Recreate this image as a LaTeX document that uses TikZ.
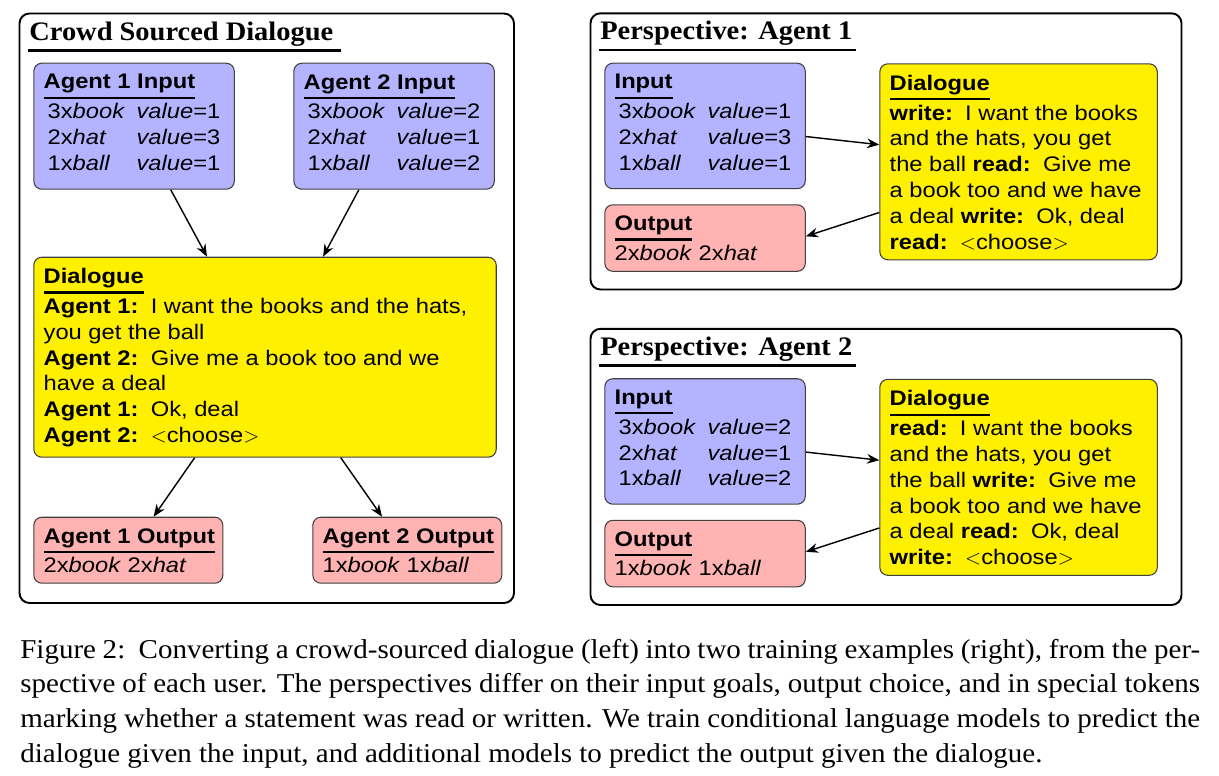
\documentclass[tikz,border=0pt]{standalone}
\usepackage{fontspec}
\setmainfont{Liberation Serif}[FakeStretch=1.065]
\setsansfont{Liberation Sans}[FakeStretch=1.125]
\usetikzlibrary{arrows.meta}

\definecolor{inblue}{RGB}{179,179,255}
\definecolor{outred}{RGB}{255,179,179}
\definecolor{dlgyel}{RGB}{255,240,0}

% underlined heading inside a box
\newcommand{\hd}[1]{\setbox0\hbox{\bfseries #1}\rlap{\smash{\rule[-5.75pt]{\wd0}{1.3pt}}}\box0}
\newcommand{\who}[1]{\textbf{#1}\hspace{7pt}}
\newcommand{\goal}[3]{\hspace*{0.08cm}\makebox[1.78cm][l]{#1x\textit{#2}}\textit{value}=#3}

\begin{document}
\begin{tikzpicture}[x=0.02cm, y=-0.02cm,
    frame/.style={draw=black, line width=1.1pt, rounded corners=0.2cm},
    box/.style={draw=black!75, line width=0.6pt, rounded corners=0.16cm, anchor=north west, inner sep=0pt},
    inbox/.style={box, fill=inblue, minimum width=4.01cm, minimum height=2.52cm},
    outbox/.style={box, fill=outred, minimum height=1.32cm},
    dlgbox/.style={box, fill=dlgyel},
    txt/.style={anchor=north west, inner sep=0pt, align=left, font=\sffamily\fontsize{12}{14.7}\selectfont},
    ttl/.style={anchor=base west, inner sep=0pt, font=\bfseries\fontsize{15.2}{18}\selectfont},
    ulin/.style={line width=1.5pt},
    arr/.style={-{Stealth[length=7pt,width=5.5pt]}, line width=0.8pt}]

\useasboundingbox (0,0) rectangle (1219,776);

% Crowd sourced dialogue
\draw[frame] (19.5,13.5) rectangle (514,603);
\node[ttl] (ttlc) at (29,40.7) {Crowd Sourced Dialogue};
\draw[ulin] ([shift={(-1,10)}]ttlc.base west) -- ([shift={(7,10)}]ttlc.base east);

\node[inbox] (in1) at (33.3,62.7) {};
\node[txt] at ([shift={(10,11.3)}]in1.north west) {\hd{Agent 1 Input}\\[2.3pt]
  \goal{3}{book}{1}\\ \goal{2}{hat}{3}\\ \goal{1}{ball}{1}};
\node[inbox] (in2) at (293.3,62.7) {};
\node[txt] at ([shift={(10,11.3)}]in2.north west) {\hd{Agent 2 Input}\\[2.3pt]
  \goal{3}{book}{2}\\ \goal{2}{hat}{1}\\ \goal{1}{ball}{2}};

\node[dlgbox, minimum width=9.25cm, minimum height=4cm] (dlg) at (33.3,256.7) {};
\node[txt] at ([shift={(10,11.3)}]dlg.north west) {\hd{Dialogue}\\[2.3pt]
  \who{Agent 1:}I want the books and the hats,\\
  you get the ball\\
  \who{Agent 2:}Give me a book too and we\\
  have a deal\\
  \who{Agent 1:}Ok, deal\\
  \who{Agent 2:}$<$choose$>$};

\node[outbox, minimum width=3.78cm] (out1) at (33.3,516.7) {};
\node[txt] at ([shift={(10,11.3)}]out1.north west) {\hd{Agent 1 Output}\\[2pt]
  2x\textit{book} 2x\textit{hat}};
\node[outbox, minimum width=3.78cm] (out2) at (312.3,516.7) {};
\node[txt] at ([shift={(10,11.3)}]out2.north west) {\hd{Agent 2 Output}\\[2pt]
  1x\textit{book} 1x\textit{ball}};

\draw[arr] (in1.-60) -- (dlg.120);
\draw[arr] (in2.-119) -- (dlg.60);
\draw[arr] (dlg.-125.5) -- (out1.53);
\draw[arr] (dlg.-53.6) -- (out2.127);

% Perspective of agent 1
\draw[frame] (590.5,13.3) rectangle (1181.5,289.5);
\node[ttl] (ttla) at (600,40) {Perspective: Agent 1};
\draw[ulin] ([shift={(-1,10)}]ttla.base west) -- ([shift={(3,10)}]ttla.base east);

\node[inbox, minimum height=2.51cm] (pin1) at (604.3,62.7) {};
\node[txt] at ([shift={(10,11.3)}]pin1.north west) {\hd{Input}\\[2.3pt]
  \goal{3}{book}{1}\\ \goal{2}{hat}{3}\\ \goal{1}{ball}{1}};
\node[outbox, minimum width=4.01cm, minimum height=1.33cm] (pout1) at (604.3,204.3) {};
\node[txt] at ([shift={(10,11.3)}]pout1.north west) {\hd{Output}\\[2pt]
  2x\textit{book} 2x\textit{hat}};
\node[dlgbox, minimum width=5.55cm, minimum height=3.92cm] (pdlg1) at (879.3,63.3) {};
\node[txt] at ([shift={(10,11.3)}]pdlg1.north west) {\hd{Dialogue}\\[2.3pt]
  \who{write:}I want the books\\
  and the hats, you get\\
  the ball \who{read:}Give me\\
  a book too and we have\\
  a deal \who{write:}Ok, deal\\
  \who{read:}$<$choose$>$};

\draw[arr] (pin1.-6.4) -- (pdlg1.173.3);
\draw[arr] (pdlg1.200) -- (pout1.1);

% Perspective of agent 2
\begin{scope}[shift={(0,315.5)}]
\draw[frame] (590.5,13.3) rectangle (1181.5,289.5);
\node[ttl] (ttlb) at (600,40) {Perspective: Agent 2};
\draw[ulin] ([shift={(-1,10)}]ttlb.base west) -- ([shift={(3,10)}]ttlb.base east);

\node[inbox, minimum height=2.51cm] (pin2) at (604.3,62.7) {};
\node[txt] at ([shift={(10,11.3)}]pin2.north west) {\hd{Input}\\[2.3pt]
  \goal{3}{book}{2}\\ \goal{2}{hat}{1}\\ \goal{1}{ball}{2}};
\node[outbox, minimum width=4.01cm, minimum height=1.33cm] (pout2) at (604.3,204.3) {};
\node[txt] at ([shift={(10,11.3)}]pout2.north west) {\hd{Output}\\[2pt]
  1x\textit{book} 1x\textit{ball}};
\node[dlgbox, minimum width=5.55cm, minimum height=3.92cm] (pdlg2) at (879.3,63.3) {};
\node[txt] at ([shift={(10,11.3)}]pdlg2.north west) {\hd{Dialogue}\\[2.3pt]
  \who{read:}I want the books\\
  and the hats, you get\\
  the ball \who{write:}Give me\\
  a book too and we have\\
  a deal \who{read:}Ok, deal\\
  \who{write:}$<$choose$>$};

\draw[arr] (pin2.-6.4) -- (pdlg2.173.3);
\draw[arr] (pdlg2.200) -- (pout2.1);
\end{scope}

% caption
\node[anchor=north west, inner sep=0pt, text width=23.6cm, align=justify,
  font=\fontsize{15.5}{19.8}\selectfont] (cap) at (20,638.5) {Figure 2:\ \ Converting a
  crowd-sourced dialogue (left) into two training examples (right), from the per-\linebreak
  spective of each user. The perspectives differ on their input goals, output choice,
  and in special tokens\linebreak marking whether a statement was read or written. We
  train conditional language models to predict the\linebreak dialogue given the input,
  and additional models to predict the output given the dialogue.};

\end{tikzpicture}
\end{document}
